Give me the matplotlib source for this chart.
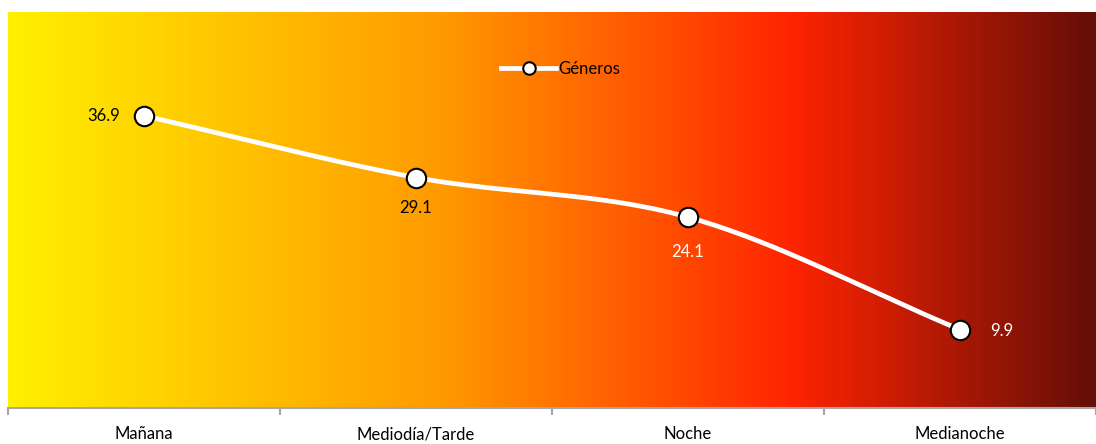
import numpy as np
import matplotlib
matplotlib.use("Agg")
from matplotlib import pyplot as plt
from matplotlib.colors import LinearSegmentedColormap

categories = ["Mañana", "Mediodía/Tarde", "Noche", "Medianoche"]
generos = [36.9, 29.1, 24.1, 9.9]
label_colors = ["black", "black", "white", "white"]

plt.rcParams["font.family"] = ["Lato", "DejaVu Sans"]

fig = plt.figure(figsize=(10.96, 4.44), dpi=100)
ax = fig.add_axes([8 / 1096, 36 / 444, 1088 / 1096, 396 / 444])

# gradient background
cmap = LinearSegmentedColormap.from_list(
    "fire", [(0, "#FFF000"), (0.4, "#FF9900"), (0.72, "#FF2400"), (1, "#650E08")])
grad = np.linspace(0, 1, 512).reshape(1, -1)
ax.imshow(grad, aspect="auto", cmap=cmap, extent=[0, 4, 0, 50], zorder=0)

x = np.arange(len(generos)) + 0.5
y = np.array(generos)

# smoothed line (Catmull-Rom, like Excel's smoothed line)
px = np.concatenate([[2 * x[0] - x[1]], x, [2 * x[-1] - x[-2]]])
py = np.concatenate([[2 * y[0] - y[1]], y, [2 * y[-1] - y[-2]]])
sx, sy = [], []
t = np.linspace(0, 1, 60)
for i in range(1, len(px) - 2):
    p0, p1, p2, p3 = px[i - 1], px[i], px[i + 1], px[i + 2]
    q0, q1, q2, q3 = py[i - 1], py[i], py[i + 1], py[i + 2]
    sx.append(0.5 * (2 * p1 + (-p0 + p2) * t + (2 * p0 - 5 * p1 + 4 * p2 - p3) * t**2
                     + (-p0 + 3 * p1 - 3 * p2 + p3) * t**3))
    sy.append(0.5 * (2 * q1 + (-q0 + q2) * t + (2 * q0 - 5 * q1 + 4 * q2 - q3) * t**2
                     + (-q0 + 3 * q1 - 3 * q2 + q3) * t**3))
ax.plot(np.concatenate(sx), np.concatenate(sy), color="white", lw=3.4,
        solid_capstyle="round", zorder=2)
ax.plot(x, y, ls="none", marker="o", ms=14, mfc="white", mec="black", mew=1.5,
        zorder=3)

# legend entry
ax.plot([], [], color="white", lw=3.4, marker="o", ms=9, mfc="white",
        mec="black", mew=1.5, label="Géneros")
leg = ax.legend(loc="upper center", bbox_to_anchor=(0.508, 0.915), frameon=False,
                fontsize=12, handlelength=3.3, handletextpad=0.1)

# data labels
offsets = [(-29, 0), (0, -22), (0, -25), (30, -1)]
for xi, yi, (dx, dy), c in zip(x, y, offsets, label_colors):
    ax.annotate(f"{yi:.1f}", (xi, yi), xytext=(dx, dy), textcoords="offset points",
                ha="center", va="center", fontsize=12, color=c, zorder=4)

ax.set_xlim(0, 4)
ax.set_ylim(0, 50)
ax.set_xticks([0, 1, 2, 3, 4])
ax.set_xticklabels([])
ax.set_xticks(x, minor=True)
ax.set_xticklabels(categories, minor=True, fontsize=12)
ax.tick_params(axis="x", which="major", length=5, color="#A6A6A6", width=1.5)
ax.tick_params(axis="x", which="minor", length=0, pad=13)
ax.set_yticks([])
for s in ["top", "left", "right"]:
    ax.spines[s].set_visible(False)
ax.spines["bottom"].set_color("#A6A6A6")
ax.spines["bottom"].set_linewidth(1.5)

fig.savefig("out.png", dpi=100)
